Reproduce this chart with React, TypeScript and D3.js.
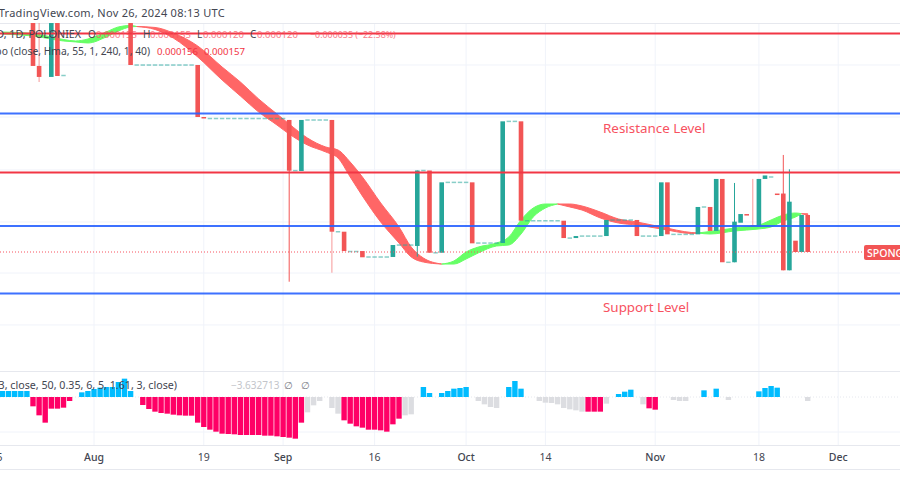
import React from 'react';
import * as d3 from 'd3';

// prices are in millionths of a dollar, days are counted from 1 Aug 2024
const candleDays = [-10, -9, -7, -6, 6, 17, 18, 32, 34, 39, 41, 44, 49, 53, 55, 57, 62, 67, 70, 77, 79, 84, 89, 93, 94, 99, 101, 102, 103, 105, 106, 107, 108, 109, 110, 112, 113, 114, 115, 116, 117];
const opens = [336.6, 296, 285.6, 336.6, 336.6, 296.9, 247.7, 244.9, 196.6, 244.9, 139.2, 120.9, 115.3, 125.7, 197.1, 119.3, 185.9, 128.5, 243.6, 149.6, 133.2, 135.1, 150.3, 135.1, 185.9, 136.7, 162.6, 139.9, 189.1, 110.3, 147.7, 155.9, 145.5, 144.1, 189.1, 175.3, 175.3, 102.7, 130.7, 120, 155];
const closes = [296, 285.6, 336.6, 286.5, 296.9, 247.7, 246.3, 196.9, 244.9, 139.2, 120.9, 115, 126.6, 197.1, 119.3, 185.9, 128.2, 243.6, 149.6, 133.2, 135.1, 150.3, 135.1, 185.9, 136.7, 162.6, 139.9, 189.1, 110.3, 148.7, 155.9, 155, 144.2, 189.1, 192.4, 174, 102.7, 167.6, 120, 155, 120];
// only the candles that have a visible wick
const wickDays = [-9, 32, 39, 53, 105, 108, 113, 114];
const wickHighs = [336.6, 244.9, 244.9, 197.1, 185.3, 189.1, 211.8, 198.2];
const wickLows = [280.8, 91.9, 100.4, 115.6, 110.3, 144.2, 102.7, 102.7];

// stretches of days where open = close
const flatFrom = [-5, 7, 19, 33, 35, 40, 42, 45, 50, 54, 56, 58, 63, 68, 71, 78, 80, 85, 90, 95, 100, 104, 111];
const flatTo = [-5, 16, 31, 33, 38, 40, 43, 48, 52, 54, 56, 61, 66, 69, 76, 78, 83, 88, 92, 98, 100, 104, 111];
const flatPrice = [287, 296.9, 246.3, 197, 244.9, 139.2, 120.5, 115.3, 126.6, 197.1, 119.3, 185.9, 128.5, 243.6, 149.6, 133.2, 135.1, 150.3, 135.1, 136.7, 162.6, 110.3, 191];

const ribbonDays = [-15, -10, -5, -3, -1, 2, 4, 6, 7, 10, 13, 17, 21, 24, 27, 30, 32, 35, 38, 40, 42, 44, 47, 50, 52, 54, 57, 59, 61, 63, 66, 68, 70, 72, 74, 76, 78, 80, 83, 86, 89, 93, 98, 99, 101, 105, 109, 111, 113, 115, 116, 117];
const hmaFast = [328.1, 326.7, 321, 319.6, 321.5, 328.1, 332.9, 334.3, 333.3, 330.5, 322.4, 304.5, 282.7, 267.6, 252.4, 240.1, 231.6, 221.2, 214.6, 208.9, 191, 173, 148.4, 128.5, 115.3, 110.5, 108.6, 111.5, 120, 124.7, 128.5, 134.2, 150.3, 161.6, 165.4, 165.4, 162.6, 159.7, 152.2, 147.4, 145.5, 141.8, 137.5, 138, 139.4, 142.7, 145.5, 150.3, 155, 156.9, 156.2, 155];
const hmaSlow = [326.2, 324.3, 319.6, 318.7, 317.7, 323.4, 329.1, 332.9, 333.3, 332.4, 327.2, 314.9, 295, 280.8, 264.7, 250.5, 241.1, 227.8, 219.3, 216.5, 205.1, 191, 166.4, 143.7, 124.7, 114.3, 108.6, 108.6, 113.4, 119.1, 125.7, 126.6, 137, 153.1, 161.6, 165.4, 165.4, 163.5, 157.8, 151.2, 148.4, 143.7, 138.4, 138, 137, 139.9, 141.8, 143.7, 149.3, 153.1, 156.2, 156.2];

const redLevels = [326.7, 195.2];
const blueLevels = [251, 144.6, 80.7];
const lastPrice = 120;
const priceGrid = [296.9, 247.7, 197.6, 148.4, 100.1, 51];

// squeeze histogram, first bar is day -15
const histStart = -15;
const histValues = [5.4, 5.4, 5.4, 5.4, 5.4, -8.4, -16.5, -23.1, -10.5, -10.5, -9.6, -3.6, 0, 4.2, 5.4, 7.2, 8.4, 9, 9, 13.5, 16.5, 5.4, 0, -7.2, -10.8, -13.2, -14.4, -15, -15.9, -16.5, -16.8, -16.8, -23.1, -27, -29.4, -31.2, -33, -33.3, -33.6, -34.2, -34.2, -34.2, -34.2, -34.8, -34.8, -35.4, -36, -36.6, -37.5, -23.1, -13.8, -7.5, -3.6, 0, -9.9, -15, -21, -24, -26.4, -27.6, -29.4, -29.4, -30, -31.2, -24.6, -19.5, -16.5, -15.6, 0, 9, 3.6, 0, 3.6, 5.4, 7.5, 8.1, 9, 0, -3.6, -6.6, -9, -9.9, 0, 9, 14.4, 7.5, 0, 0, -3.6, -5.1, -5.4, -6.6, -9.9, -11.1, -12, -13.2, -13.2, -13.2, -13.2, -6, 0, 2.7, 4.8, 6.6, 0, -6.6, -10.2, -11.4, 0, 0, -2.7, -3.6, -3.6, 0, 0, 6, 0, 7.5, 0, -2.7, 0, 0, 0, 0, 5.1, 8.1, 9.9, 8.4, 0, 0, 0, 0, -3.6];

const greyFrom = [35, 39, 51, 63, 73, 84, 90, 95, 104, 117];
const greyTo = [37, 40, 52, 66, 80, 84, 90, 97, 104, 117];

const tickDays = [-16, 0, 18, 31, 46, 61, 74, 92, 109, 122];
const tickLabels = ['15', 'Aug', '19', 'Sep', '16', 'Oct', '14', 'Nov', '18', 'Dec'];

const FONT = '"Noto Sans", sans-serif';
const RED = '#f7525f';
const CANDLE_RED = '#f25555';
const TEAL = '#26a69a';

const day0 = new Date(Date.UTC(2024, 7, 1));
const x = d3
  .scaleUtc()
  .domain([day0, new Date(Date.UTC(2024, 11, 1))])
  .range([94, 838.2]);
const xd = (d: number) => x(d3.utcDay.offset(day0, d));
const y = d3.scaleLinear().domain([120, 155]).range([252, 215]);
const yHist = d3.scaleLinear().domain([0, 9]).range([397, 387]);

const isGrey = (d: number) => greyFrom.some((f, i) => d >= f && d <= greyTo[i]);

// split the ribbon where the two averages meet so each part gets one colour
const ribbonParts = () => {
  const parts: { up: boolean; idx: number[] }[] = [];
  let cur: number[] = [0];
  for (let i = 1; i < ribbonDays.length; i++) {
    cur.push(i);
    if (hmaFast[i] === hmaSlow[i]) {
      parts.push({ up: hmaFast[i - 1] > hmaSlow[i - 1], idx: cur });
      cur = [i];
    }
  }
  if (cur.length > 1) {
    parts.push({ up: hmaFast[cur[1]] > hmaSlow[cur[1]], idx: cur });
  }
  return parts;
};

const ribbonArea = d3
  .area<number>()
  .x((i) => xd(ribbonDays[i]))
  .y0((i) => y(hmaFast[i]))
  .y1((i) => y(hmaSlow[i]))
  .curve(d3.curveMonotoneX);

const App = () => {
  const flatDays = flatFrom.flatMap((f, i) =>
    d3.range(f, flatTo[i] + 1).map((d) => ({ d, p: flatPrice[i] })),
  );
  return (
    <svg
      width={900}
      height={500}
      style={{ position: 'absolute', left: 0, top: 0, background: '#fff' }}
      fontFamily={FONT}
    >
      <defs>
        <clipPath id="pane">
          <rect x={0} y={23} width={900} height={348} />
        </clipPath>
      </defs>

      {/* grid */}
      {tickDays.slice(1).map((d) => (
        <line key={d} x1={xd(d)} x2={xd(d)} y1={23} y2={445} stroke="#f0f3fa" />
      ))}
      {priceGrid.map((p) => (
        <line key={p} x1={0} x2={900} y1={y(p)} y2={y(p)} stroke="#f0f3fa" />
      ))}
      <line x1={0} x2={900} y1={yHist(-31.5)} y2={yHist(-31.5)} stroke="#f0f3fa" />
      {[23, 371, 445, 469].map((v) => (
        <line key={v} x1={0} x2={900} y1={v + 0.5} y2={v + 0.5} stroke="#e6e8ee" strokeWidth={1} />
      ))}

      <g clipPath="url(#pane)">
        {/* ribbon */}
        {ribbonParts().map((part, i) => (
          <path
            key={i}
            d={ribbonArea(part.idx) ?? ''}
            fill={part.up ? '#66ff66' : '#ff6666'}
            stroke={part.up ? '#66ff66' : '#ff6666'}
            strokeWidth={1}
          />
        ))}

        {/* flat days */}
        {flatDays.map(({ d, p }) => (
          <rect key={d} x={xd(d) - 2.2} width={4.4} y={y(p) - 0.7} height={1.5} fill={TEAL} opacity={0.55} />
        ))}

        {/* wicks */}
        {wickDays.map((d, i) => {
          const k = candleDays.indexOf(d);
          const up = closes[k] > opens[k];
          return (
            <line
              key={d}
              x1={xd(d)}
              x2={xd(d)}
              y1={y(wickHighs[i])}
              y2={y(wickLows[i])}
              stroke={up ? TEAL : CANDLE_RED}
              strokeWidth={1}
              opacity={d === -9 || d === 108 || d === 39 ? 0.6 : 1}
            />
          );
        })}

        {/* bodies */}
        {candleDays.map((d, i) => {
          const up = closes[i] > opens[i];
          const top = y(Math.max(opens[i], closes[i]));
          const bottom = y(Math.min(opens[i], closes[i]));
          return (
            <rect
              key={d}
              x={xd(d) - 2.3}
              width={4.6}
              y={top}
              height={Math.max(bottom - top, 1.5)}
              fill={up ? TEAL : CANDLE_RED}
            />
          );
        })}

        {/* drawn levels */}
        {redLevels.map((p) => (
          <line key={p} x1={0} x2={900} y1={y(p)} y2={y(p)} stroke="#f23645" strokeWidth={2} />
        ))}
        {blueLevels.map((p) => (
          <line key={p} x1={0} x2={900} y1={y(p)} y2={y(p)} stroke="#2962ff" strokeWidth={2} opacity={0.9} />
        ))}
        <line x1={0} x2={865} y1={y(lastPrice)} y2={y(lastPrice)} stroke={RED} strokeWidth={1} strokeDasharray="1 2" />
      </g>

      <text x={603} y={133} fontSize={13.4} fill={RED}>Resistance Level</text>
      <text x={603} y={312} fontSize={13.4} fill={RED}>Support Level</text>

      <rect x={864} y={245} width={40} height={15} rx={2} fill={CANDLE_RED} />
      <text x={867} y={256.5} fontSize={10.5} fontWeight={500} fill="#fff">SPONGEUSD</text>

      {/* header and legend */}
      <text x={225} y={17} fontSize={11} letterSpacing={0.28} fill="#434651" textAnchor="end">Published on TradingView.com, Nov 26, 2024 08:13 UTC</text>
      <text x={81} y={38} fontSize={10.7} fill="#434651" textAnchor="end">SPONGEUSD, 1D, POLONIEX</text>
      <text x={88} y={38} fontSize={10} fill="#434651">O</text>
      <text x={96} y={38} fontSize={9.6} fill={RED} opacity={0.75}>0.000155</text>
      <text x={143} y={38} fontSize={10} fill="#434651">H</text>
      <text x={150} y={38} fontSize={9.6} fill={RED} opacity={0.75}>0.000155</text>
      <text x={197} y={38} fontSize={10} fill="#434651">L</text>
      <text x={203} y={38} fontSize={9.6} fill={RED} opacity={0.75}>0.000120</text>
      <text x={250} y={38} fontSize={10} fill="#434651">C</text>
      <text x={257} y={38} fontSize={9.6} fill={RED} opacity={0.75}>0.000120</text>
      <text x={310} y={38} fontSize={8.9} fill={RED} opacity={0.75}>−0.000035 (−22.58%)</text>
      <text x={150} y={55} fontSize={10.3} fill="#434651" textAnchor="end">Hull Ribbo (close, Hma, 55, 1, 240, 1, 40)</text>
      <text x={157} y={55} fontSize={9.6} fill="#f23645">0.000156</text>
      <text x={204} y={55} fontSize={9.6} fill="#f23645">0.000157</text>

      {/* squeeze histogram */}
      <line x1={0} x2={900} y1={397} y2={397} stroke="#e6e8ee" strokeDasharray="1 2" />
      {histValues.map((v, i) => {
        const d = histStart + i;
        if (v === 0) return null;
        const color = isGrey(d) ? '#dcdde1' : v > 0 ? '#00bcff' : '#ff0066';
        return (
          <rect
            key={d}
            x={xd(d) - 2.7}
            width={5.4}
            y={Math.min(yHist(v), yHist(0))}
            height={Math.abs(yHist(v) - yHist(0))}
            fill={color}
          />
        );
      })}
      <text x={177} y={389} fontSize={10.7} fill="#434651" textAnchor="end">Squeeze 20, 2, 3, close, 50, 0.35, 6, 5, 1.61, 3, close)</text>
      <text x={231} y={389} fontSize={10} fill="#c3c5ca">−3.632713</text>
      <text x={284} y={389} fontSize={10} fill="#787b86">∅</text>
      <text x={301} y={389} fontSize={10} fill="#787b86">∅</text>

      {/* time axis */}
      {tickDays.map((d, i) => (
        <text
          key={d}
          x={xd(d)}
          y={461}
          fontSize={10.5}
          fill="#434651"
          textAnchor="middle"
          fontWeight={d === 0 || d === 31 || d === 61 || d === 92 || d === 122 ? 500 : 400}
        >
          {tickLabels[i]}
        </text>
      ))}
    </svg>
  );
};

export default App;
